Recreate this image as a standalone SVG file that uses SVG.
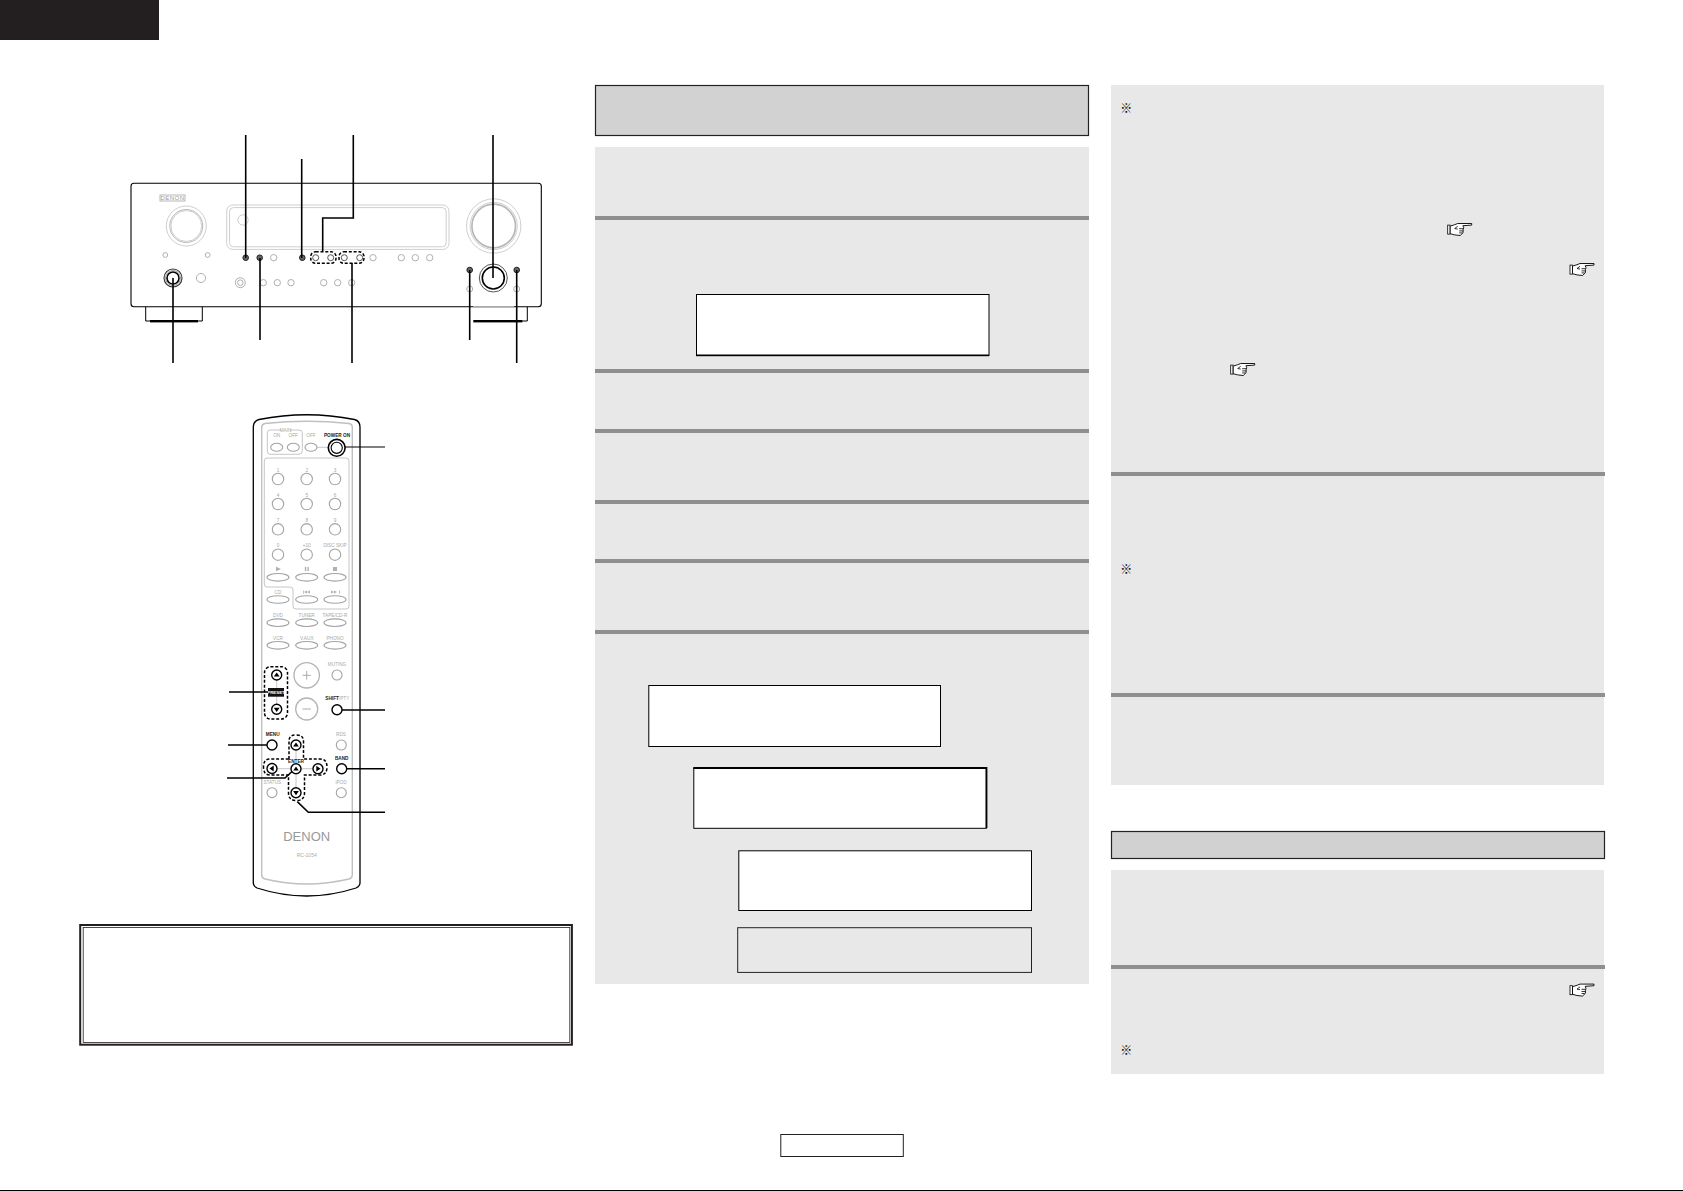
<svg xmlns="http://www.w3.org/2000/svg" xmlns:xlink="http://www.w3.org/1999/xlink" width="1683" height="1191" viewBox="0 0 1683 1191">
<style>
.panel{fill:#e8e8e8}
.sep{fill:#908f8f}
.head{fill:#d2d2d2;stroke:#222;stroke-width:1.2}
.lcd{fill:#fff;stroke:#000;stroke-width:1}
.lg{fill:none;stroke:#cfcfcf;stroke-width:1}
.bg{fill:#fff;stroke:#a4a4a4;stroke-width:1.1}
.bk{fill:#fff;stroke:#000;stroke-width:1.4}
.dash{fill:none;stroke:#000;stroke-width:1.5;stroke-dasharray:3 1.8}
.lead{fill:none;stroke:#000;stroke-width:1.6}
.thin{fill:none;stroke:#b8b8b8;stroke-width:.8}
.dot{fill:#666;stroke:#222;stroke-width:1}
.ring{fill:none;stroke:#b8b8b8;stroke-width:1}
text{font-family:"Liberation Sans",Arial,sans-serif}
.t{font-size:4.7px;fill:#a8a8a8;text-anchor:middle}
.tb{font-size:4.7px;fill:#222;font-weight:bold;text-anchor:middle}
.ico{fill:#b0b0b0}
.note{font-family:"Noto Sans CJK JP","Liberation Sans",sans-serif;font-size:12px;font-weight:bold;fill:#000;text-anchor:middle}
</style>
<defs>
<g id="hand">
<rect x="-12" y="-4.6" width="2.4" height="9" fill="#fff" stroke="#000" stroke-width=".8"/>
<path d="M-9.5-3.6L-5-5L-2-6.2L12-6.2L12-4.6L3.2-4L4-2L3.4 0L3.4 3L.5 5.8L-5 5.2L-9.5 4Z" fill="#fff" stroke="#000" stroke-width=".9"/>
<path d="M-2-3.4L-5-1.2L-2-.6M-.5-1H3.4M-.5 1.2H3.4M-.5 3.2H2.6" fill="none" stroke="#000" stroke-width=".8"/>
</g>
</defs>
<rect width="1683" height="1191" fill="#fff"/>
<rect id="lang-tab" x="0" y="0" width="159" height="40" fill="#231f20"/>

<g id="receiver">
<rect x="131" y="183.3" width="410.3" height="123.4" rx="3" fill="#fff" stroke="#000" stroke-width="1.1"/>
<path d="M145.7 306.7V321H202.3V306.7" fill="none" stroke="#000" stroke-width="1"/>
<rect x="150" y="320" width="48" height="2.4" fill="#000"/>
<path d="M527.3 306.7V321H522" fill="none" stroke="#000" stroke-width="1"/>
<rect x="473.3" y="320" width="49" height="2.4" fill="#000"/>
<path d="M473 306.7H514" stroke="#aaa" stroke-width="1.2" fill="none"/>
<rect x="160" y="195" width="25" height="6" fill="#fff" stroke="#b0b0b0" stroke-width=".9"/>
<text x="172.5" y="200.2" font-size="6" fill="#999" text-anchor="middle" letter-spacing=".5">DENON</text>
<circle class="lg" cx="186.3" cy="226" r="20"/>
<circle class="ring" cx="186.3" cy="226" r="16.5"/>
<circle class="lg" cx="186.3" cy="226" r="15.4"/>
<rect class="lg" x="226.7" y="205" width="222.3" height="44.4" rx="6"/>
<rect class="lg" x="229.5" y="207.6" width="216.7" height="39.2" rx="4"/>
<circle class="lg" cx="243" cy="220" r="5.2"/>
<circle class="lg" cx="493.7" cy="226" r="27.2"/>
<circle class="ring" cx="493.7" cy="226" r="21.8" style="stroke-width:1.7"/>
<circle class="lg" cx="493.7" cy="226" r="23.6"/>
<g class="ring" style="stroke:#b0b0b0">
<circle cx="165.3" cy="255" r="2.4"/><circle cx="207.7" cy="255" r="2.4"/>
<circle cx="273.7" cy="257.7" r="3.2"/><circle cx="373" cy="257.7" r="3.2"/><circle cx="401.3" cy="257.7" r="3.2"/><circle cx="415.3" cy="257.7" r="3.2"/><circle cx="429.7" cy="257.7" r="3.2"/>
<circle cx="201" cy="278" r="4.6"/>
<circle cx="240.3" cy="282.7" r="5"/><circle cx="240.3" cy="282.7" r="2.8"/>
<circle cx="263.3" cy="282.7" r="3.2"/><circle cx="277.3" cy="282.7" r="3.2"/><circle cx="291" cy="282.7" r="3.2"/>
<circle cx="323.7" cy="282.7" r="3.2"/><circle cx="337.7" cy="282.7" r="3.2"/><circle cx="351.7" cy="282.7" r="3.2"/>
<circle cx="469.7" cy="289" r="3"/><circle cx="516.7" cy="289" r="3"/>
</g>
<g class="dot">
<circle cx="245.7" cy="257.7" r="2.8"/><circle cx="259.7" cy="257.7" r="2.8"/><circle cx="302.3" cy="257.7" r="2.8"/>
<circle cx="469.7" cy="270" r="2.8"/><circle cx="516.7" cy="270" r="2.8"/>
</g>
<g fill="#fff" stroke="#555" stroke-width="1">
<circle cx="315.7" cy="257.7" r="3"/><circle cx="330.7" cy="257.7" r="3"/><circle cx="344.3" cy="257.7" r="3"/><circle cx="359.7" cy="257.7" r="3"/>
</g>
<rect class="dash" x="310.7" y="251.7" width="25.3" height="11.6" rx="5"/>
<rect class="dash" x="339" y="251.7" width="25" height="11.6" rx="5"/>
<circle cx="173" cy="278" r="9" fill="#fff" stroke="#333" stroke-width="1.1"/>
<circle cx="173" cy="278" r="6" fill="#fff" stroke="#000" stroke-width="1.6"/>
<circle cx="173" cy="278" r="7.5" fill="none" stroke="#777" stroke-width=".7"/>
<circle cx="493.3" cy="278" r="14" fill="#fff" stroke="#555" stroke-width="1"/>
<circle cx="493.3" cy="278" r="11" fill="#fff" stroke="#000" stroke-width="1.6"/>
</g>

<g id="remote">
<path d="M253.3 427Q253.5 421 259 419.5Q306.7 410 354.5 419.5Q360 421 360 427V883Q360 886 356 888Q306.7 904 257 888Q253.3 886 253.3 883Z" fill="#fff" stroke="#000" stroke-width="1.3"/>
<path d="M261.7 427Q262 424 265 423.5Q306.7 419 349 423.5Q352.3 424 352.3 427V875Q352.3 878 349 879Q306.7 889 265 879Q261.7 878 261.7 875Z" fill="none" stroke="#c0c0c0" stroke-width="1.4"/>
<path d="M281 430H270Q267.3 430 267.3 433V451Q267.3 454.3 270 454.3H299Q302.3 454.3 302.3 451V433Q302.3 430 299 430H290" class="thin"/>
<text class="t" x="285.5" y="431.8">MAIN</text>
<text class="t" x="276.7" y="437">ON</text><text class="t" x="293.3" y="437">OFF</text><text class="t" x="311" y="437">OFF</text>
<text class="tb" x="337" y="436.5">POWER ON</text>
<path class="thin" d="M317 447.3H328"/>
<g class="bg">
<ellipse cx="276.7" cy="447.3" rx="6" ry="4"/><ellipse cx="293.3" cy="447.3" rx="6" ry="4"/><ellipse cx="311" cy="447.3" rx="6" ry="4"/>
</g>
<circle cx="336.7" cy="447.8" r="8.4" fill="#fff" stroke="#000" stroke-width="1.6"/>
<circle cx="336.7" cy="447.8" r="5.6" fill="#fff" stroke="#000" stroke-width="1.1"/>
<path d="M267 458H346Q349 458 349 461V606Q349 609 346 609H296Q293 609 293 606V590Q293 587 290 587H267Q264.3 587 264.3 584V461Q264.3 458 267 458Z" class="thin"/>
<g class="bg">
<circle cx="278" cy="479" r="5.7"/><circle cx="306.7" cy="479" r="5.7"/><circle cx="335" cy="479" r="5.7"/>
<circle cx="278" cy="504" r="5.7"/><circle cx="306.7" cy="504" r="5.7"/><circle cx="335" cy="504" r="5.7"/>
<circle cx="278" cy="529.3" r="5.7"/><circle cx="306.7" cy="529.3" r="5.7"/><circle cx="335" cy="529.3" r="5.7"/>
<circle cx="278" cy="554.7" r="5.7"/><circle cx="306.7" cy="554.7" r="5.7"/><circle cx="335" cy="554.7" r="5.7"/>
<ellipse cx="278" cy="577.3" rx="11" ry="3.8"/><ellipse cx="306.7" cy="577.3" rx="11" ry="3.8"/><ellipse cx="335" cy="577.3" rx="11" ry="3.8"/>
<ellipse cx="278" cy="599.5" rx="11" ry="3.8"/><ellipse cx="306.7" cy="599.5" rx="11" ry="3.8"/><ellipse cx="335" cy="599.5" rx="11" ry="3.8"/>
<ellipse cx="278" cy="622.7" rx="11" ry="3.8"/><ellipse cx="306.7" cy="622.7" rx="11" ry="3.8"/><ellipse cx="335" cy="622.7" rx="11" ry="3.8"/>
<ellipse cx="278" cy="645.3" rx="11" ry="3.8"/><ellipse cx="306.7" cy="645.3" rx="11" ry="3.8"/><ellipse cx="335" cy="645.3" rx="11" ry="3.8"/>
</g>
<text class="t" x="278" y="471.8">1</text><text class="t" x="306.7" y="471.8">2</text><text class="t" x="335" y="471.8">3</text>
<text class="t" x="278" y="496.8">4</text><text class="t" x="306.7" y="496.8">5</text><text class="t" x="335" y="496.8">6</text>
<text class="t" x="278" y="521.8">7</text><text class="t" x="306.7" y="521.8">8</text><text class="t" x="335" y="521.8">9</text>
<text class="t" x="278" y="547">0</text><text class="t" x="306.7" y="547">+10</text><text class="t" x="335" y="547">DISC SKIP</text>
<text class="t" x="278" y="593.7">CD</text>
<text class="t" x="278" y="617">DVD</text><text class="t" x="306.7" y="617">TUNER</text><text class="t" x="335" y="617">TAPE/CD-R</text>
<text class="t" x="278" y="640">VCR</text><text class="t" x="306.7" y="640">V.AUX</text><text class="t" x="335" y="640">PHONO</text>
<g class="ico">
<path d="M276 566.8L281 569L276 571.2Z"/>
<rect x="304.8" y="566.8" width="1.4" height="4.4"/><rect x="307.4" y="566.8" width="1.4" height="4.4"/>
<rect x="333" y="567" width="4" height="4"/>
<path d="M303 590.4h.8v3.2h-.8ZM307 590.4v3.2l-3-1.6ZM310 590.4v3.2l-3-1.6Z"/>
<path d="M339 590.4h.8v3.2h-.8ZM331 590.4v3.2l3-1.6ZM334 590.4v3.2l3-1.6Z"/>
</g>

<circle class="bg" cx="306.7" cy="675.3" r="12.7" style="stroke:#b4b4b4;stroke-width:1.3"/>
<path d="M302.5 675.3h8.4M306.7 671v8.6" stroke="#aaa" stroke-width="1" fill="none"/>
<circle class="bg" cx="306.7" cy="709" r="11" style="stroke:#b4b4b4;stroke-width:1.3"/>
<path d="M302.5 709h8.4" stroke="#aaa" stroke-width="1" fill="none"/>
<text class="t" x="337" y="665.7">MUTING</text>
<circle class="bg" cx="337" cy="675" r="5"/>
<text class="t" x="337.3" y="700.4"><tspan font-weight="bold" fill="#222">SHIFT</tspan>/PTY</text>
<path class="thin" d="M276.7 680V704"/>
<circle class="bk" cx="276.7" cy="675" r="5"/><path d="M276.7 672.4L279.6 676.6H273.8Z"/>
<circle class="bk" cx="276.7" cy="709.3" r="5"/><path d="M276.7 712L279.6 707.8H273.8Z"/>
<rect x="268" y="688" width="16" height="8.7" fill="#111"/>
<text x="276" y="694" font-size="4.4" font-weight="bold" fill="#fff" text-anchor="middle">PRESET</text>
<rect class="dash" x="264.5" y="666.7" width="23" height="52.3" rx="6"/>
<text class="tb" x="272.7" y="736">MENU</text>
<circle class="bk" cx="272" cy="745" r="5"/>
<text class="t" x="341" y="736">RDS</text><circle class="bg" cx="341.3" cy="745" r="5"/>
<text class="tb" x="341.7" y="760.4">BAND</text><circle class="bk" cx="341.7" cy="768.7" r="5"/>
<text class="t" x="272.3" y="784">STATUS</text><circle class="bg" cx="272" cy="792.7" r="5"/>
<text class="t" x="341" y="784">iPOD</text><circle class="bg" cx="341.3" cy="792.7" r="5"/>
<path class="thin" d="M296 750V760M296 775V787M277 768.7H291M301 768.7H313"/>
<path class="dash" d="M289 759V741Q289 735 296 735Q303.5 735 303.5 741V759H320Q327 759 327 767Q327 775 320 775H304.5V793Q304.5 800.5 296.5 800.5Q288.5 800.5 288.5 793V775H270Q263.5 775 263.5 767Q263.5 759 270 759Z"/>
<text class="tb" x="296" y="762.6">ENTER</text>
<circle class="bk" cx="296" cy="745" r="5"/><path d="M296 742.4L298.9 746.6H293.1Z"/>
<circle class="bk" cx="272" cy="768.5" r="5"/><path d="M269.5 768.5L273.7 765.6V771.4Z"/>
<circle class="bk" cx="296" cy="768.7" r="5"/><path d="M296 766.4L298.7 770.4H293.3Z"/>
<circle class="bk" cx="318" cy="768.7" r="5"/><path d="M320.5 768.7L316.3 765.8V771.6Z"/>
<circle class="bk" cx="296" cy="792.7" r="5"/><path d="M296 795.3L298.9 791.1H293.1Z"/>
<circle class="bk" cx="337" cy="709.7" r="5"/>
<text x="306.7" y="841" font-size="13" fill="#999" text-anchor="middle">DENON</text>
<text x="306.7" y="856.7" font-size="5" fill="#aaa" text-anchor="middle">RC-1054</text>
</g>

<g id="connectors" class="lead">
<path d="M245.7 135V258"/>
<path d="M301.7 159V258"/>
<path d="M353.3 135V218H322.7V251"/>
<path d="M493 135V278"/>
<path d="M173 278V363"/>
<path d="M260 258V340"/>
<path d="M352 263V363"/>
<path d="M469.7 270V340"/>
<path d="M516.7 270V363"/>
<path d="M345 447H385" style="stroke-width:1.2"/>
<path d="M229 692H268"/>
<path d="M228 745H267"/>
<path d="M227 778H285L292 771.5"/>
<path d="M342 710H385"/>
<path d="M347 768.7H385"/>
<path d="M297.3 801.7L308.3 812.3H385"/>
</g>

<g id="note-box">
<rect x="80.2" y="925" width="491.7" height="119.7" fill="#fff" stroke="#231f20" stroke-width="2"/>
<rect x="83.2" y="927.5" width="486.6" height="115" fill="none" stroke="#231f20" stroke-width=".8"/>
</g>

<g id="steps-panel">
<rect class="head" x="595.5" y="85.5" width="493" height="50"/>
<rect class="panel" x="595" y="147" width="494" height="837"/>
<rect class="sep" x="595" y="216" width="494" height="4"/>
<rect class="sep" x="595" y="369" width="494" height="4"/>
<rect class="sep" x="595" y="429" width="494" height="4"/>
<rect class="sep" x="595" y="500" width="494" height="4"/>
<rect class="sep" x="595" y="559" width="494" height="4"/>
<rect class="sep" x="595" y="630" width="494" height="4"/>
<g id="display-1">
<rect class="lcd" x="696.5" y="294.5" width="292.5" height="61"/>
<rect x="696" y="354.5" width="293" height="1.7" fill="#000"/>
</g>
<rect id="display-2" class="lcd" x="648.8" y="685.5" width="291.7" height="61"/>
<g id="display-3">
<rect class="lcd" x="693.8" y="767.8" width="292.5" height="60.5"/>
<path d="M693.5 768H986.5V828" fill="none" stroke="#000" stroke-width="1.8"/>
</g>
<rect id="display-4" class="lcd" x="738.8" y="850.8" width="292.7" height="59.7"/>
<rect id="display-5" x="737.7" y="927.7" width="293.8" height="44.7" fill="none" stroke="#222" stroke-width="1"/>
</g>

<g id="notes-panel">
<rect class="panel" x="1111" y="85" width="493" height="700"/>
<rect class="sep" x="1111" y="472" width="494" height="4"/>
<rect class="sep" x="1111" y="693" width="494" height="4"/>
<text class="note" x="1126.3" y="113.4">※</text>
<text class="note" x="1126.3" y="574">※</text>
<use xlink:href="#hand" href="#hand" x="1459.7" y="229.7"/>
<use xlink:href="#hand" href="#hand" x="1582" y="269.7"/>
<use xlink:href="#hand" href="#hand" x="1242.7" y="369.7"/>
</g>

<g id="cancel-panel">
<rect class="head" x="1111.5" y="831.5" width="493" height="27" style="fill:#d1d1d1"/>
<rect class="panel" x="1111" y="870" width="493" height="204"/>
<rect class="sep" x="1111" y="965" width="494" height="4"/>
<use xlink:href="#hand" href="#hand" x="1582" y="990.3"/>
<text class="note" x="1126.3" y="1054.6">※</text>
</g>

<rect id="page-number" x="780.8" y="1134.5" width="122.5" height="22" fill="#fff" stroke="#222" stroke-width="1"/>
<rect id="bottom-rule" x="0" y="1190" width="1683" height="1" fill="#000"/>
</svg>
